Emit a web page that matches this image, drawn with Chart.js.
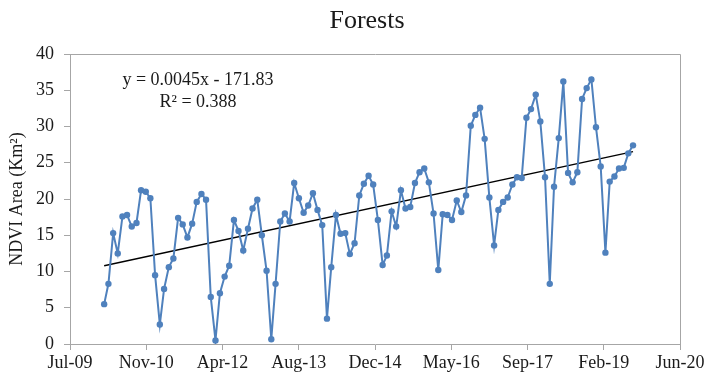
<!DOCTYPE html>
<html>
<head>
<meta charset="utf-8">
<script src="https://cdn.jsdelivr.net/npm/chart.js@4/dist/chart.umd.min.js"></script>
<style>
  html, body { margin: 0; padding: 0; background: #ffffff; }
  #wrap { width: 708px; height: 378px; }
</style>
</head>
<body>
<div id="wrap"><canvas id="chart" width="708" height="378"></canvas></div>
<script>
// ---- Data ----
const chartTitle = 'Forests';
const yAxisTitle = 'NDVI Area (Km²)';

// Monthly observations (year-month)
const months = [
  '2010-02','2010-03','2010-04','2010-05','2010-06','2010-07','2010-08','2010-09','2010-10','2010-11','2010-12',
  '2011-01','2011-02','2011-03','2011-04','2011-05','2011-06','2011-07','2011-08','2011-09','2011-10','2011-11','2011-12',
  '2012-01','2012-02','2012-03','2012-04','2012-05','2012-06','2012-07','2012-08','2012-09','2012-10','2012-11','2012-12',
  '2013-01','2013-02','2013-03','2013-04','2013-05','2013-06','2013-07','2013-08','2013-09','2013-10','2013-11','2013-12',
  '2014-01','2014-02','2014-03','2014-04','2014-05','2014-06','2014-07','2014-08','2014-09','2014-10','2014-11','2014-12',
  '2015-01','2015-02','2015-03','2015-04','2015-05','2015-06','2015-07','2015-08','2015-09','2015-10','2015-11','2015-12',
  '2016-01','2016-02','2016-03','2016-04','2016-05','2016-06','2016-07','2016-08','2016-09','2016-10','2016-11','2016-12',
  '2017-01','2017-02','2017-03','2017-04','2017-05','2017-06','2017-07','2017-08','2017-09','2017-10','2017-11','2017-12',
  '2018-01','2018-02','2018-03','2018-04','2018-05','2018-06','2018-07','2018-08','2018-09','2018-10','2018-11','2018-12',
  '2019-01','2019-02','2019-03','2019-04','2019-05','2019-06','2019-07','2019-08'
];

// NDVI forest area, Km²
const ndviArea = [
  5.5, 8.3, 15.3, 12.5, 17.6, 17.8, 16.2, 16.7, 21.2, 21.0, 20.1,
  9.5, 2.7, 7.6, 10.6, 11.8, 17.4, 16.5, 14.7, 16.6, 19.6, 20.7, 19.9,
  6.5, 0.5, 7.0, 9.3, 10.8, 17.1, 15.6, 12.9, 15.9, 18.7, 19.9, 15.0,
  10.1, 0.65, 8.3, 16.9, 18.0, 16.9, 22.2, 20.1, 18.1, 19.1, 20.8, 18.5,
  16.4, 3.5, 10.6, 17.8, 15.2, 15.3, 12.4, 13.9, 20.5, 22.1, 23.2, 22.0,
  17.1, 10.9, 12.2, 18.3, 16.2, 21.2, 18.7, 18.9, 22.2, 23.7, 24.2, 22.3,
  18.0, 10.2, 17.9, 17.8, 17.1, 19.8, 18.2, 20.5, 30.1, 31.6, 32.6, 28.3,
  20.2, 13.6, 18.5, 19.6, 20.2, 22.0, 23.0, 22.9, 31.2, 32.4, 34.4, 30.7,
  23.0, 8.3, 21.7, 28.4, 36.2, 23.6, 22.3, 23.7, 33.8, 35.3, 36.5, 29.9,
  24.5, 12.6, 22.4, 23.1, 24.2, 24.3, 26.3, 27.4
];

// Axis ticks: x in spreadsheet day serials, y in Km²
const xTickStart = 40000;
const xTickEnd = 44000;
const xTickStep = 500;
const yTickMin = 0;
const yTickMax = 40;
const yTickStep = 5;

// Linear trend (x = day serial)
const trendSlope = 0.00454;
const trendIntercept = -171.83;
const trendR2 = 0.388;

// ---- Helpers ----
const SERIAL_EPOCH = Date.UTC(1899, 11, 30);
const DAY_MS = 86400000;
const MONTH_ABBR = ['Jan','Feb','Mar','Apr','May','Jun','Jul','Aug','Sep','Oct','Nov','Dec'];

function monthToSerial(ym) {
  const [y, m] = ym.split('-').map(Number);
  return (Date.UTC(y, m - 1, 15) - SERIAL_EPOCH) / DAY_MS;
}
function serialToLabel(v) {
  const d = new Date(SERIAL_EPOCH + v * DAY_MS);
  return MONTH_ABBR[d.getUTCMonth()] + '-' + String(d.getUTCFullYear() % 100).padStart(2, '0');
}

const points = months.map((m, i) => ({ x: monthToSerial(m), y: ndviArea[i] }));
const xFirst = points[0].x;
const xLast = points[points.length - 1].x;
const trendPoints = [xFirst, xLast].map(x => ({ x, y: trendSlope * x + trendIntercept }));

const equationText = 'y = ' + trendSlope.toFixed(4) + 'x - ' + Math.abs(trendIntercept).toFixed(2);
const r2Text = 'R² = ' + trendR2.toFixed(3);

const SERIF = "'Liberation Serif', 'Times New Roman', serif";
const AXIS_GREY = '#a6a6a6';
const TEXT = '#1a1a1a';

// Plot-area frame (top and right edges)
const framePlugin = {
  id: 'plotFrame',
  beforeDatasetsDraw(chart) {
    const { ctx, chartArea: a } = chart;
    ctx.save();
    ctx.strokeStyle = AXIS_GREY;
    ctx.lineWidth = 1;
    ctx.beginPath();
    ctx.moveTo(Math.round(a.left) + 0.5, Math.round(a.top) + 0.5);
    ctx.lineTo(Math.round(a.right) + 0.5, Math.round(a.top) + 0.5);
    ctx.lineTo(Math.round(a.right) + 0.5, Math.round(a.bottom) + 0.5);
    ctx.stroke();
    ctx.restore();
  }
};

// Chart title and trend equation text
const textPlugin = {
  id: 'chartText',
  afterDraw(chart) {
    const { ctx } = chart;
    ctx.save();
    ctx.fillStyle = TEXT;
    ctx.textAlign = 'center';
    ctx.textBaseline = 'middle';
    ctx.font = '26px ' + SERIF;
    ctx.fillText(chartTitle, 367, 21);
    ctx.textBaseline = 'alphabetic';
    ctx.font = '18px ' + SERIF;
    ctx.fillText(equationText, 198, 85);
    ctx.fillText(r2Text, 198, 107);
    ctx.restore();
  }
};

new Chart(document.getElementById('chart'), {
  type: 'line',
  data: {
    datasets: [
      {
        label: 'NDVI Area',
        data: points,
        borderColor: '#4f81bd',
        backgroundColor: '#4f81bd',
        borderWidth: 2,
        pointRadius: 3.2,
        pointBorderWidth: 0,
        pointHoverRadius: 3.2,
        tension: 0
      },
      {
        label: 'Linear trend',
        data: trendPoints,
        borderColor: '#000000',
        borderWidth: 1.4,
        pointRadius: 0,
        tension: 0
      }
    ]
  },
  options: {
    responsive: false,
    animation: false,
    devicePixelRatio: 1,
    layout: { padding: { left: 0, right: 28, top: 54, bottom: 0 } },
    plugins: {
      legend: { display: false },
      tooltip: { enabled: false },
      title: { display: false }
    },
    scales: {
      x: {
        type: 'linear',
        min: xTickStart,
        max: xTickEnd,
        afterFit(scale) { scale.height = 34; },
        grid: { drawOnChartArea: false, drawTicks: true, tickLength: 6, color: AXIS_GREY },
        border: { color: AXIS_GREY, width: 1 },
        ticks: {
          stepSize: xTickStep,
          autoSkip: false,
          maxRotation: 0,
          padding: 2,
          color: TEXT,
          font: { family: SERIF, size: 18 },
          callback: v => serialToLabel(v)
        }
      },
      y: {
        min: yTickMin,
        max: yTickMax,
        afterFit(scale) { scale.width = 70; },
        grid: { drawOnChartArea: false, drawTicks: true, tickLength: 6, color: AXIS_GREY },
        border: { color: AXIS_GREY, width: 1 },
        ticks: {
          stepSize: yTickStep,
          padding: 10,
          color: TEXT,
          font: { family: SERIF, size: 18 }
        },
        title: {
          display: true,
          text: yAxisTitle,
          color: TEXT,
          font: { family: SERIF, size: 18, lineHeight: 1.2 },
          padding: { top: 6, bottom: 0 }
        }
      }
    }
  },
  plugins: [framePlugin, textPlugin]
});
</script>
</body>
</html>
